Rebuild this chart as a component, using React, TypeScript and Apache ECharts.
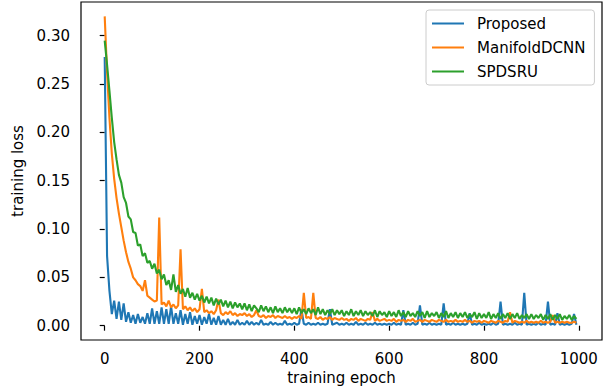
import React, { useEffect, useRef } from "react";
import * as echarts from "echarts";

// sampled every 5 epochs
const epochs: number[] = Array.from({ length: 200 }, (_, i) => i * 5);

const proposed: number[] = [
  0.278, 0.072, 0.036, 0.012, 0.026, 0.007, 0.025, 0.006, 0.023, 0.004, 0.014, 0.003, 0.011, 0.002, 0.012, 0.003, 0.009, 0.002, 0.013, 0.002,
  0.018, 0.002, 0.015, 0.002, 0.019, 0.002, 0.017, 0.002, 0.020, 0.002, 0.013, 0.002, 0.016, 0.001, 0.012, 0.002, 0.014, 0.001, 0.010, 0.002,
  0.011, 0.001, 0.009, 0.002, 0.012, 0.001, 0.008, 0.001, 0.010, 0.001, 0.006, 0.001, 0.007, 0.001, 0.004, 0.001, 0.006, 0.001, 0.003, 0.001,
  0.005, 0.001, 0.004, 0.001, 0.003, 0.001, 0.006, 0.001, 0.002, 0.001, 0.004, 0.001, 0.003, 0.001, 0.002, 0.001, 0.005, 0.001, 0.002, 0.001,
  0.003, 0.001, 0.002, 0.017, 0.002, 0.001, 0.003, 0.001, 0.002, 0.001, 0.003, 0.001, 0.002, 0.001, 0.002, 0.017, 0.001, 0.002, 0.003, 0.001,
  0.002, 0.001, 0.003, 0.001, 0.002, 0.001, 0.004, 0.001, 0.002, 0.001, 0.003, 0.001, 0.002, 0.001, 0.003, 0.001, 0.002, 0.001, 0.002, 0.001,
  0.002, 0.001, 0.003, 0.001, 0.002, 0.001, 0.016, 0.001, 0.002, 0.001, 0.003, 0.001, 0.002, 0.021, 0.001, 0.002, 0.001, 0.003, 0.001, 0.002,
  0.001, 0.002, 0.001, 0.023, 0.001, 0.002, 0.001, 0.003, 0.001, 0.002, 0.001, 0.002, 0.001, 0.002, 0.013, 0.001, 0.002, 0.001, 0.003, 0.001,
  0.002, 0.001, 0.002, 0.001, 0.003, 0.001, 0.002, 0.025, 0.001, 0.002, 0.001, 0.002, 0.001, 0.003, 0.001, 0.002, 0.001, 0.034, 0.001, 0.002,
  0.001, 0.002, 0.001, 0.003, 0.001, 0.002, 0.001, 0.025, 0.001, 0.002, 0.001, 0.013, 0.001, 0.002, 0.001, 0.002, 0.001, 0.002, 0.012, 0.001,
];

const manifoldDCNN: number[] = [
  0.320, 0.262, 0.215, 0.178, 0.152, 0.132, 0.116, 0.102, 0.088, 0.076, 0.066, 0.059, 0.050, 0.047, 0.043, 0.041, 0.036, 0.047, 0.031, 0.029,
  0.027, 0.025, 0.026, 0.112, 0.022, 0.024, 0.020, 0.026, 0.019, 0.022, 0.018, 0.021, 0.079, 0.017, 0.020, 0.016, 0.019, 0.015, 0.018, 0.014,
  0.017, 0.038, 0.014, 0.016, 0.013, 0.015, 0.012, 0.016, 0.027, 0.013, 0.011, 0.014, 0.012, 0.015, 0.011, 0.013, 0.010, 0.012, 0.011, 0.013,
  0.010, 0.012, 0.009, 0.011, 0.016, 0.010, 0.009, 0.011, 0.008, 0.010, 0.009, 0.011, 0.008, 0.010, 0.009, 0.008, 0.010, 0.008, 0.009, 0.007,
  0.009, 0.008, 0.010, 0.007, 0.034, 0.008, 0.009, 0.007, 0.034, 0.008, 0.007, 0.009, 0.006, 0.008, 0.007, 0.009, 0.006, 0.008, 0.007, 0.006,
  0.008, 0.006, 0.007, 0.005, 0.007, 0.006, 0.008, 0.005, 0.007, 0.006, 0.005, 0.007, 0.006, 0.014, 0.005, 0.007, 0.005, 0.006, 0.007, 0.005,
  0.006, 0.005, 0.007, 0.004, 0.006, 0.005, 0.006, 0.004, 0.006, 0.005, 0.007, 0.004, 0.005, 0.006, 0.004, 0.006, 0.005, 0.004, 0.006, 0.005,
  0.004, 0.006, 0.005, 0.004, 0.006, 0.004, 0.005, 0.004, 0.006, 0.004, 0.005, 0.004, 0.006, 0.004, 0.005, 0.003, 0.005, 0.004, 0.005, 0.003,
  0.005, 0.004, 0.003, 0.005, 0.004, 0.003, 0.005, 0.004, 0.003, 0.005, 0.004, 0.014, 0.003, 0.005, 0.004, 0.003, 0.004, 0.003, 0.005, 0.003,
  0.004, 0.003, 0.004, 0.003, 0.005, 0.003, 0.004, 0.003, 0.004, 0.011, 0.003, 0.004, 0.003, 0.004, 0.003, 0.004, 0.003, 0.003, 0.004, 0.003,
];

const spdsru: number[] = [
  0.295, 0.270, 0.243, 0.215, 0.190, 0.172, 0.156, 0.148, 0.133, 0.127, 0.113, 0.110, 0.097, 0.096, 0.083, 0.084, 0.072, 0.075, 0.065, 0.067,
  0.059, 0.064, 0.054, 0.058, 0.048, 0.053, 0.042, 0.047, 0.037, 0.053, 0.035, 0.042, 0.033, 0.038, 0.030, 0.039, 0.029, 0.034, 0.027, 0.033,
  0.026, 0.031, 0.024, 0.030, 0.023, 0.029, 0.021, 0.028, 0.022, 0.027, 0.020, 0.026, 0.019, 0.025, 0.018, 0.024, 0.019, 0.023, 0.017, 0.023,
  0.016, 0.022, 0.015, 0.021, 0.018, 0.014, 0.021, 0.015, 0.020, 0.014, 0.019, 0.013, 0.020, 0.014, 0.018, 0.013, 0.019, 0.014, 0.018, 0.013,
  0.018, 0.012, 0.019, 0.013, 0.017, 0.012, 0.018, 0.013, 0.017, 0.011, 0.019, 0.012, 0.017, 0.011, 0.016, 0.012, 0.017, 0.011, 0.016, 0.012,
  0.016, 0.010, 0.015, 0.011, 0.017, 0.010, 0.015, 0.011, 0.016, 0.010, 0.015, 0.011, 0.014, 0.010, 0.016, 0.009, 0.015, 0.011, 0.014, 0.009,
  0.015, 0.010, 0.014, 0.009, 0.016, 0.010, 0.014, 0.009, 0.015, 0.010, 0.013, 0.009, 0.015, 0.010, 0.014, 0.008, 0.015, 0.009, 0.013, 0.010,
  0.014, 0.008, 0.013, 0.009, 0.015, 0.008, 0.013, 0.009, 0.014, 0.008, 0.013, 0.009, 0.014, 0.008, 0.012, 0.009, 0.014, 0.007, 0.013, 0.008,
  0.012, 0.008, 0.014, 0.007, 0.012, 0.008, 0.013, 0.007, 0.012, 0.008, 0.013, 0.007, 0.012, 0.008, 0.013, 0.007, 0.011, 0.008, 0.012, 0.007,
  0.012, 0.007, 0.011, 0.008, 0.012, 0.006, 0.011, 0.007, 0.012, 0.006, 0.011, 0.007, 0.012, 0.006, 0.010, 0.007, 0.011, 0.006, 0.010, 0.007,
];

const seriesNames = ["Proposed", "ManifoldDCNN", "SPDSRU"];
const seriesColors = ["#1f77b4", "#ff7f0e", "#2ca02c"];
const xTicks = [0, 200, 400, 600, 800, 1000];
const yTicks = [0, 0.05, 0.1, 0.15, 0.2, 0.25, 0.3];

const legendLineIcon = "path://M0,0L0,0ZM0,6L32,6L32,8L0,8ZM32,14L32,14Z";

export default function App() {
  const ref = useRef<HTMLDivElement>(null);
  useEffect(() => {
    if (!ref.current) return;
    const chart = echarts.init(ref.current, null, { renderer: "svg" });
    const font = "'DejaVu Sans', sans-serif";
    const fs = 15;
    const pair = (ys: number[]) => epochs.map((x, i) => [x, ys[i]]);
    const all = [proposed, manifoldDCNN, spdsru];
    chart.setOption({
      animation: false,
      backgroundColor: "#ffffff",
      grid: {
        left: 81,
        top: 2,
        right: 8,
        bottom: 52,
        show: true,
        borderColor: "#000000",
        borderWidth: 1.2,
        backgroundColor: "transparent",
      },
      xAxis: {
        type: "value",
        min: -50,
        max: 1049,
        name: "training epoch",
        nameLocation: "middle",
        nameGap: 30,
        nameTextStyle: { fontFamily: font, fontSize: fs, color: "#000" },
        axisLine: { show: false },
        splitLine: { show: false },
        axisTick: { show: true, length: 5, customValues: xTicks, lineStyle: { color: "#000", width: 1.2 } },
        axisLabel: {
          customValues: xTicks,
          margin: 11,
          fontFamily: font,
          fontSize: fs,
          color: "#000",
          formatter: (v: number) => String(v),
        },
      },
      yAxis: {
        type: "value",
        min: -0.0148,
        max: 0.3349,
        name: "training loss",
        nameLocation: "middle",
        nameRotate: 90,
        nameGap: 51,
        nameTextStyle: { fontFamily: font, fontSize: fs, color: "#000" },
        axisLine: { show: false },
        splitLine: { show: false },
        axisTick: { show: true, length: 5, customValues: yTicks, lineStyle: { color: "#000", width: 1.2 } },
        axisLabel: {
          customValues: yTicks,
          margin: 11,
          fontFamily: font,
          fontSize: fs,
          color: "#000",
          formatter: (v: number) => v.toFixed(2),
        },
      },
      legend: {
        orient: "vertical",
        left: 426,
        top: 10,
        padding: [6, 9, 6, 6],
        itemWidth: 32,
        itemHeight: 14,
        itemGap: 9,
        icon: legendLineIcon,
        backgroundColor: "rgba(255,255,255,0.8)",
        borderColor: "#cccccc",
        borderWidth: 1,
        borderRadius: 3,
        selectedMode: false,
        textStyle: { fontFamily: font, fontSize: fs, color: "#000", padding: [0, 0, 0, 8] },
        data: seriesNames,
      },
      series: seriesNames.map((name, k) => ({
        name,
        type: "line",
        data: pair(all[k]),
        symbol: "none",
        showSymbol: false,
        color: seriesColors[k],
        itemStyle: { color: seriesColors[k] },
        lineStyle: { color: seriesColors[k], width: 2.1 },
        emphasis: { disabled: true },
        silent: true,
      })),
    });
    return () => chart.dispose();
  }, []);
  return <div ref={ref} style={{ position: "fixed", left: 0, top: 0, width: 610, height: 392 }} />;
}
